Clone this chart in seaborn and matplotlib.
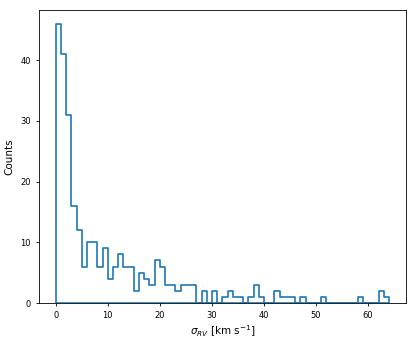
import numpy as np
import matplotlib
matplotlib.use("Agg")
import matplotlib.pyplot as plt
import seaborn as sns

# histogram: 1 km/s bins from 0 to 64
bin_edges = list(range(0, 65))
counts = [46, 41, 31, 16, 12, 6, 10, 10, 6, 9, 4, 6, 8, 6, 6, 2,
          5, 4, 3, 7, 6, 3, 3, 2, 3, 3, 3, 0, 2, 0, 2, 0,
          1, 2, 1, 1, 0, 1, 3, 1, 0, 0, 2, 1, 1, 1, 0, 1,
          0, 0, 0, 1, 0, 0, 0, 0, 0, 0, 1, 0, 0, 0, 2, 1]
xticks = [0, 10, 20, 30, 40, 50, 60]
yticks = [0, 10, 20, 30, 40]

centers = np.array(bin_edges[:-1]) + 0.5

fig = plt.figure(figsize=(4.16, 3.42), dpi=100)
ax = fig.add_axes([0.094, 0.114, 0.881, 0.858])

sns.histplot(x=centers, weights=counts, bins=bin_edges, element="step",
             fill=True, color="#1f77b4", facecolor="none",
             edgecolor="#1f77b4", linewidth=1.2, ax=ax)

ax.set_xticks(xticks)
ax.set_yticks(yticks)
ax.tick_params(labelsize=6, length=2.5, width=0.6)
for s in ax.spines.values():
    s.set_linewidth(0.6)
ax.set_xlabel(r"$\sigma_{RV}$ [km s$^{-1}$]", fontsize=7.5, labelpad=2)
ax.set_ylabel("Counts", fontsize=7.5, labelpad=4)

fig.savefig("out.png", dpi=100)
